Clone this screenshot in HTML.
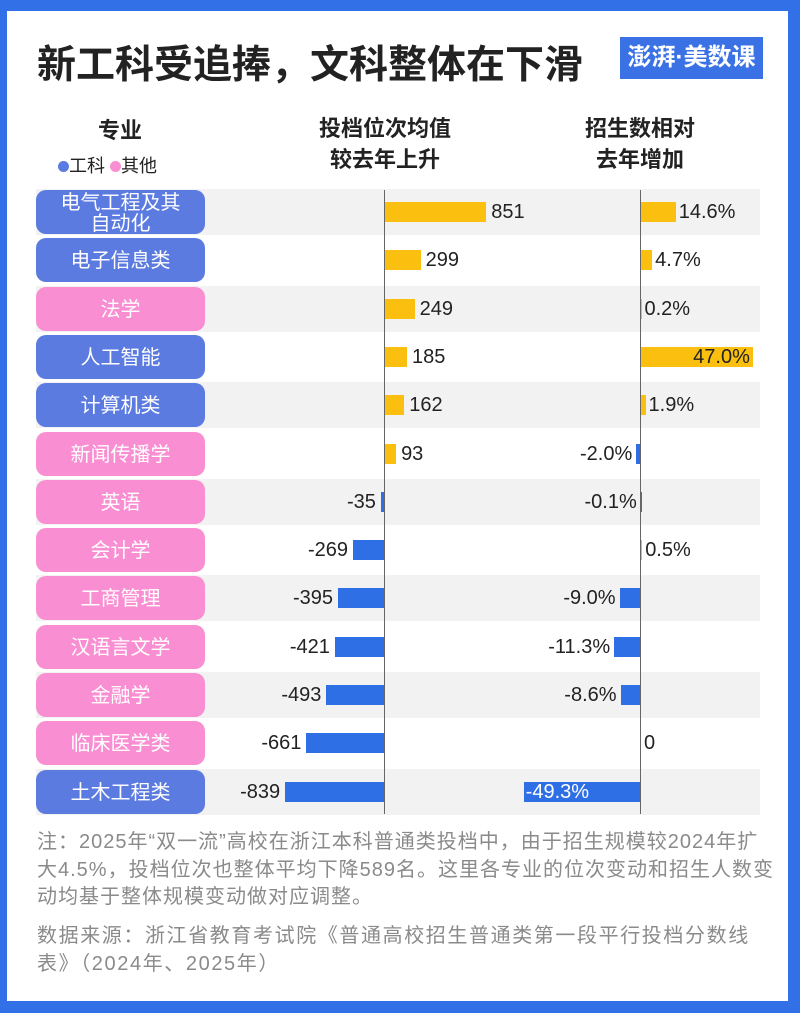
<!DOCTYPE html>
<html><head><meta charset="utf-8"><style>
*{margin:0;padding:0;box-sizing:border-box}
body{width:800px;height:1013px;background:#3170e6;position:relative;overflow:hidden;font-family:"Liberation Sans","Noto Sans CJK SC",sans-serif}
#panel{position:absolute;left:7px;top:11px;width:781px;height:990px;background:#fff}
.a{position:absolute;white-space:nowrap}
.row{position:absolute;left:36px;width:724px;height:46px}
.pill{position:absolute;left:36px;width:169px;height:44px;border-radius:10px;color:#fff;font-size:20px;text-align:center;display:flex;align-items:center;justify-content:center;line-height:21px;padding-top:3px}
.bar{position:absolute;height:20px}
.y{background:#fbbf0f}.b{background:#2f6fe6}
.v{position:absolute;font-size:20px;color:#222;line-height:20px}
.note{position:absolute;left:37px;font-size:20px;letter-spacing:1px;color:#8a8a8a;line-height:27.5px;white-space:nowrap}
</style></head><body>
<div id="panel"></div>
<div class="a" style="left:37px;top:34px;font-size:39px;font-weight:bold;color:#222">新工科受追捧，文科整体在下滑</div>
<div class="a" style="left:620px;top:37px;width:143px;height:42px;background:#3a72e6;color:#fff;font-size:24px;text-align:center;line-height:42px;font-weight:bold">澎湃·美数课</div>
<div class="a" style="left:90px;top:113px;width:60px;text-align:center;font-size:22px;font-weight:bold;color:#222">专业</div>
<div class="a" style="left:58px;top:152px;font-size:18px;color:#222"><span style="display:inline-block;width:11px;height:11px;border-radius:50%;background:#5b7be0"></span>工科 <span style="display:inline-block;width:11px;height:11px;border-radius:50%;background:#f98fd2"></span>其他</div>
<div class="a" style="left:285px;top:113px;width:200px;text-align:center;font-size:22px;font-weight:bold;color:#222;line-height:31px">投档位次均值<br>较去年上升</div>
<div class="a" style="left:540px;top:113px;width:200px;text-align:center;font-size:22px;font-weight:bold;color:#222;line-height:31px">招生数相对<br>去年增加</div>
<div id="rows"></div>
<div class="a" style="left:384px;top:190px;width:1px;height:624px;background:#666"></div>
<div class="a" style="left:640px;top:190px;width:1px;height:624px;background:#666"></div>
<div class="note" style="top:829px">注：2025年“双一流”高校在浙江本科普通类投档中，由于招生规模较2024年扩<br>大4.5%，投档位次也整体平均下降589名。这里各专业的位次变动和招生人数变<br>动均基于整体规模变动做对应调整。</div>
<div class="note" style="top:923px;letter-spacing:1.6px">数据来源：浙江省教育考试院《普通高校招生普通类第一段平行投档分数线<br>表》（2024年、2025年）</div>
<script>
var d=[["电气工程及其<br>自动化",1,851,14.6,"14.6%"],["电子信息类",1,299,4.7,"4.7%"],["法学",0,249,0.2,"0.2%"],["人工智能",1,185,47.0,"47.0%"],["计算机类",1,162,1.9,"1.9%"],["新闻传播学",0,93,-2.0,"-2.0%"],["英语",0,-35,-0.1,"-0.1%"],["会计学",0,-269,0.5,"0.5%"],["工商管理",0,-395,-9.0,"-9.0%"],["汉语言文学",0,-421,-11.3,"-11.3%"],["金融学",0,-493,-8.6,"-8.6%"],["临床医学类",0,-661,0,"0"],["土木工程类",1,-839,-49.3,"-49.3%"]];
var h="";
d.forEach(function(r,i){var t=189+i*48.3;
if(i%2==0)h+='<div class="row" style="top:'+t+'px;background:#f2f2f2"></div>';
h+='<div class="pill" style="top:'+(t+1)+'px;background:'+(r[1]?'#5b7be0':'#f98fd2')+'">'+r[0]+'</div>';
var c=t+23,w=Math.abs(r[2])*0.119;
if(r[2]>0){h+='<div class="bar y" style="left:385px;top:'+(c-10)+'px;width:'+w+'px"></div><div class="v" style="left:'+(390+w)+'px;top:'+(c-10)+'px">'+r[2]+'</div>';}
else{h+='<div class="bar b" style="left:'+(385-w)+'px;top:'+(c-10)+'px;width:'+w+'px"></div><div class="v" style="right:'+(800-385+w+5)+'px;top:'+(c-10)+'px">'+r[2]+'</div>';}
var w2=Math.abs(r[3])*2.38;
if(i==3){h+='<div class="bar y" style="left:641px;top:'+(c-10)+'px;width:'+w2+'px"></div><div class="v" style="left:641px;width:'+(w2-3)+'px;text-align:right;top:'+(c-10)+'px">'+r[4]+'</div>';}
else if(i==12){h+='<div class="bar b" style="left:'+(641-w2)+'px;top:'+(c-10)+'px;width:'+w2+'px"></div><div class="v" style="left:'+(643-w2)+'px;top:'+(c-10)+'px;color:#fff">'+r[4]+'</div>';}
else if(r[3]>=0){h+='<div class="bar y" style="left:641px;top:'+(c-10)+'px;width:'+w2+'px"></div><div class="v" style="left:'+(644+w2)+'px;top:'+(c-10)+'px">'+r[4]+'</div>';}
else{h+='<div class="bar b" style="left:'+(641-w2)+'px;top:'+(c-10)+'px;width:'+w2+'px"></div><div class="v" style="right:'+(800-641+w2+4)+'px;top:'+(c-10)+'px">'+r[4]+'</div>';}
});
document.getElementById("rows").innerHTML=h;
</script>
</body></html>
